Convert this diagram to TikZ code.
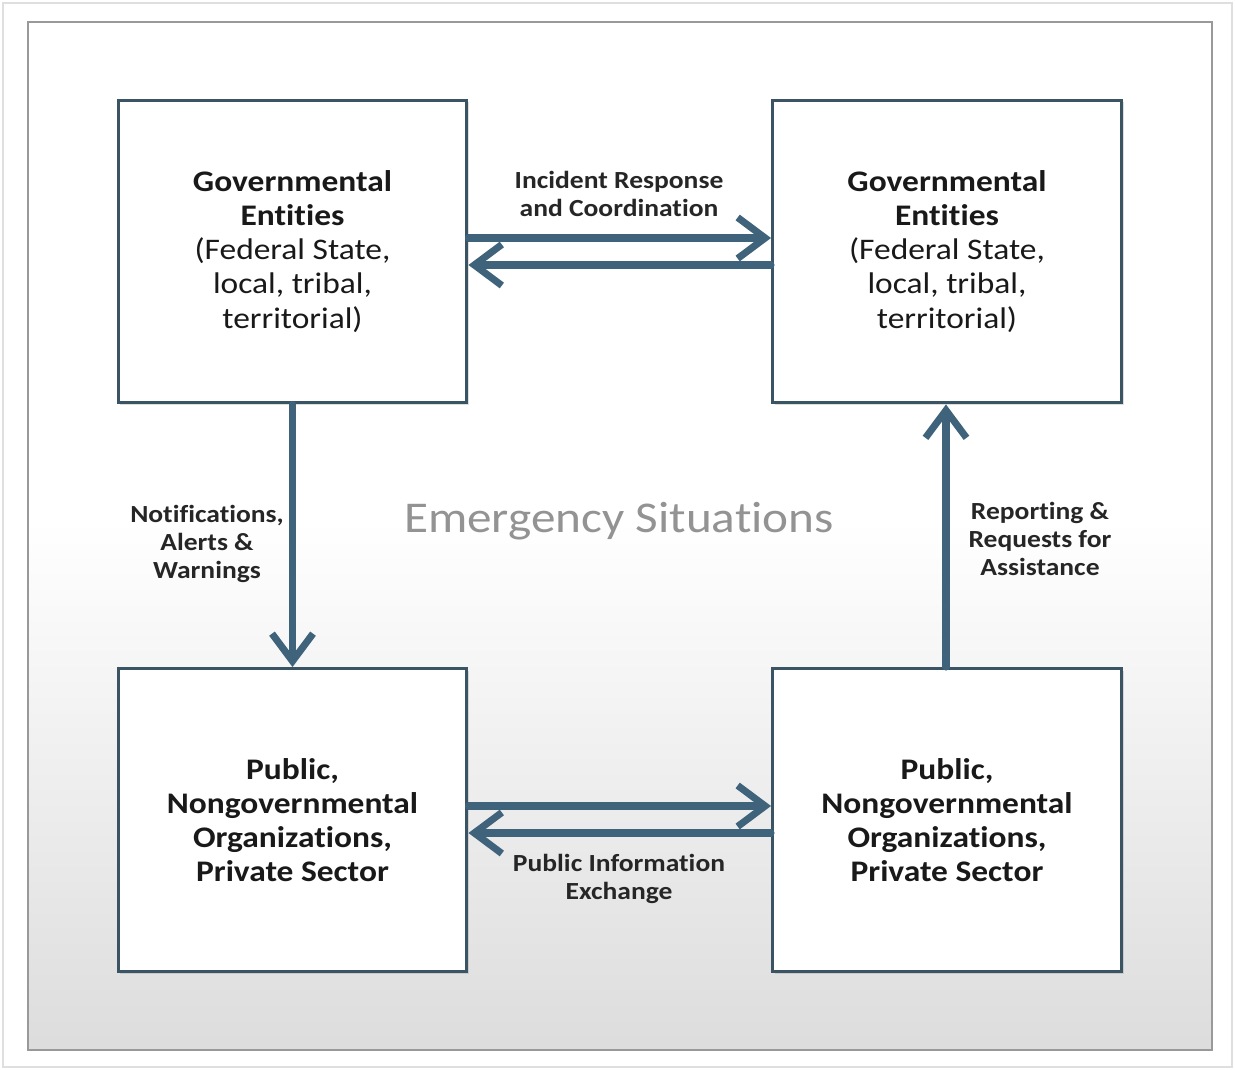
\documentclass[tikz,border=0pt]{standalone}
\usepackage{fontspec}
\setmainfont[FakeStretch=1.12, Ligatures=NoCommon]{Carlito}
\usetikzlibrary{arrows.meta,shadows}
\definecolor{boxline}{RGB}{58,84,99}
\definecolor{flowcol}{RGB}{64,99,124}
\definecolor{labcol}{RGB}{38,38,38}
\begin{document}
\begin{tikzpicture}[x=0.02cm, y=-0.02cm,
    entity/.style={draw=boxline, line width=1.7pt, fill=white, minimum width=6.98cm,
      minimum height=6.06cm, align=center, text=black!90,
      font=\fontsize{17}{19.4}\selectfont,
      drop shadow={opacity=0.25, shadow xshift=1.2pt, shadow yshift=-1.2pt}},
    flowlabel/.style={align=center, text=labcol, font=\fontsize{14}{15.9}\selectfont\bfseries},
    flow/.style={draw=flowcol, line width=4pt, line cap=round, line join=round,
      -{Straight Barb[length=0.55cm, width=0.82cm]}}]
  \useasboundingbox (0,0) rectangle (1235,1070);
  % frame and background
  \draw [gray!25, line width=0.8pt] (3,3) rectangle (1232,1067);
  \fill [white] (28,22) rectangle (1212,1050);
  \shade [top color=white, bottom color=gray!27] (28,520) rectangle (1212,1050);
  \draw [gray!80, line width=1.3pt] (28,22) rectangle (1212,1050);
  % boxes
  \node [entity] (govleft) at (292.5,251.5) {\textbf{Governmental}\\\textbf{Entities}\\(Federal State,\\local, tribal,\\territorial)};
  \node [entity] (govright) at (947,251.5) {\textbf{Governmental}\\\textbf{Entities}\\(Federal State,\\local, tribal,\\territorial)};
  \node [entity] (publeft) at (292.5,820) {\textbf{Public,}\\\textbf{Nongovernmental}\\\textbf{Organizations,}\\\textbf{Private Sector}};
  \node [entity] (pubright) at (947,820) {\textbf{Public,}\\\textbf{Nongovernmental}\\\textbf{Organizations,}\\\textbf{Private Sector}};
  % centre text
  \node [text=gray!85, font=\fontsize{25}{30}\selectfont] (situation) at (619,521) {Emergency Situations};
  % connectors
  \draw [flow] ([yshift=0.27cm]govleft.east) -- ([yshift=0.27cm]govright.west);
  \draw [flow] ([yshift=-0.27cm]govright.west) -- ([yshift=-0.27cm]govleft.east);
  \draw [flow] ([yshift=0.28cm]publeft.east) -- ([yshift=0.28cm]pubright.west);
  \draw [flow] ([yshift=-0.26cm]pubright.west) -- ([yshift=-0.26cm]publeft.east);
  \draw [flow] (govleft.south) -- (publeft.north);
  \draw [flow] ([xshift=-0.02cm]pubright.north) -- ([xshift=-0.02cm]govright.south);
  % labels
  \node [flowlabel] (incident) at (619,194) {Incident Response\\and Coordination};
  \node [flowlabel] (exchange) at (619,879) {Public Information\\Exchange};
  \node [flowlabel] (notify) at (207,544) {Notifications,\\Alerts \&\\Warnings};
  \node [flowlabel] (report) at (1040,539) {Reporting \&\\Requests for\\Assistance};
\end{tikzpicture}
\end{document}
